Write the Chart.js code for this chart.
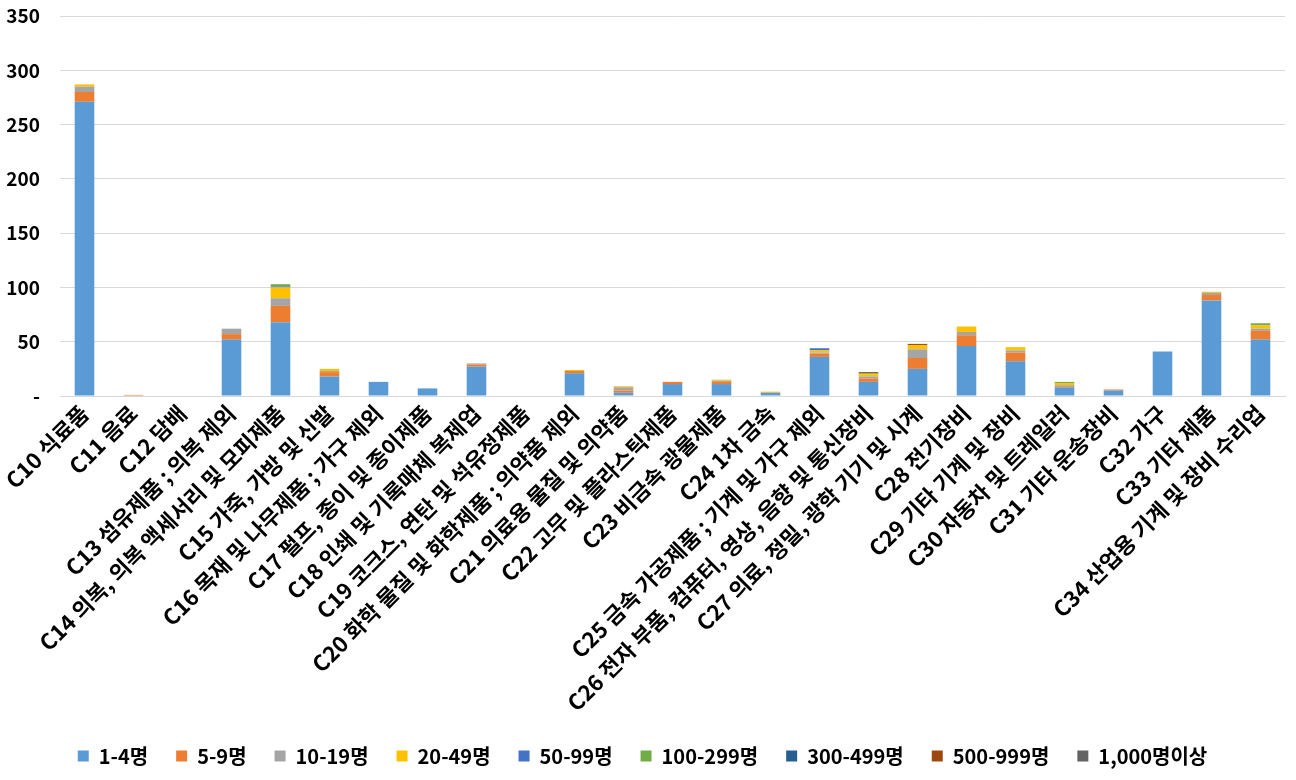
<!DOCTYPE html>
<html>
<head>
<meta charset="utf-8">
<script src="https://cdn.jsdelivr.net/npm/chart.js@4/dist/chart.umd.min.js"></script>
<style>
html,body{margin:0;padding:0;background:#fff;}
#wrap{width:1296px;height:780px;}
</style>
</head>
<body>
<div id="wrap"><canvas id="c" width="1296" height="780"></canvas></div>
<script>
const categories = [
  "C10 식료품","C11 음료","C12 담배","C13 섬유제품 ; 의복 제외",
  "C14 의복, 의복 액세서리 및 모피제품","C15 가죽, 가방 및 신발",
  "C16 목재 및 나무제품 ; 가구 제외","C17 펄프, 종이 및 종이제품",
  "C18 인쇄 및 기록매체 복제업","C19 코크스, 연탄 및 석유정제품",
  "C20 화학 물질 및 화학제품 ; 의약품 제외","C21 의료용 물질 및 의약품",
  "C22 고무 및 플라스틱제품","C23 비금속 광물제품","C24 1차 금속",
  "C25 금속 가공제품 ; 기계 및 가구 제외","C26 전자 부품, 컴퓨터, 영상, 음향 및 통신장비",
  "C27 의료, 정밀, 광학 기기 및 시계","C28 전기장비","C29 기타 기계 및 장비",
  "C30 자동차 및 트레일러","C31 기타 운송장비","C32 가구","C33 기타 제품",
  "C34 산업용 기계 및 장비 수리업"
];
const seriesNames = ["1-4명","5-9명","10-19명","20-49명","50-99명","100-299명","300-499명","500-999명","1,000명이상"];
const s1to4     = [271,0,0,52,68,18,13,7,27,0,21,3,11,11,3,36,13,25,46,32,8,5,41,88,52];
const s5to9     = [9,1,0,5,15,4,0,0,2,0,2,2,2,2,0,3,3,10,10,8,1,1,0,5,8];
const s10to19   = [5,0,0,5,7,1,0,0,1,0,0,3,0,1,0,1,2,8,3,2,1,0,0,2,2];
const s20to49   = [2,0,0,0,10,2,0,0,0,0,1,1,0,1,1,2,2,4,5,3,2,0,0,1,3];
const s50to99   = [0,0,0,0,1,0,0,0,0,0,0,0,0,0,0,2,0,0,0,0,0,0,0,0,0];
const s100to299 = [0,0,0,0,2,0,0,0,0,0,0,0,0,0,0,0,1,0,0,0,1,0,0,0,2];
const s300to499 = [0,0,0,0,0,0,0,0,0,0,0,0,0,0,0,0,0,0,0,0,0,0,0,0,0];
const s500to999 = [0,0,0,0,0,0,0,0,0,0,0,0,0,0,0,0,1,1,0,0,0,0,0,0,0];
const s1000     = [0,0,0,0,0,0,0,0,0,0,0,0,0,0,0,0,0,0,0,0,0,0,0,0,0];
const yTicks = ["-","50","100","150","200","250","300","350"];

const colors = ["#5B9BD5","#ED7D31","#A5A5A5","#FFC000","#4472C4","#70AD47","#255E91","#9E480E","#636363"];
const allSeries = [s1to4,s5to9,s10to19,s20to49,s50to99,s100to299,s300to499,s500to999,s1000];

const FONT = "'Noto Sans CJK KR','Noto Sans',sans-serif";

new Chart(document.getElementById('c'), {
  type: 'bar',
  data: {
    labels: categories,
    datasets: allSeries.map((d,i)=>({
      label: seriesNames[i],
      data: d,
      backgroundColor: colors[i],
      borderWidth: 0,
      barPercentage: 0.4,
      categoryPercentage: 1.0
    }))
  },
  options: {
    responsive: false,
    animation: false,
    devicePixelRatio: 1,
    layout: { padding: { left: 0, right: 11, top: 0, bottom: 4 } },
    plugins: {
      legend: {
        position: 'bottom',
        labels: {
          font: { family: FONT, size: 20, weight: 'bold' },
          color: '#000',
          boxWidth: 11, boxHeight: 11,
          padding: 28
        }
      },
      tooltip: { enabled: false }
    },
    scales: {
      x: {
        stacked: true,
        grid: { display: false, drawTicks: false },
        border: { color: '#d9d9d9', width: 1 },
        ticks: {
          autoSkip: false,
          maxRotation: 45, minRotation: 45,
          color: '#000',
          padding: 4,
          font: { family: FONT, size: 22, weight: 'bold' }
        },
        afterFit: (s) => { s.height = 322; s.paddingLeft = 0; s.paddingRight = 0; }
      },
      y: {
        stacked: true,
        min: 0, max: 350,
        grid: { color: '#d9d9d9', drawTicks: false },
        border: { display: false },
        ticks: {
          stepSize: 50,
          padding: 20,
          color: '#000',
          font: { family: FONT, size: 19, weight: 'bold' },
          callback: (v) => yTicks[Math.round(v/50)]
        },
        afterFit: (s) => { s.width = 60; s.paddingTop = 16; s.paddingBottom = 0; }
      }
    }
  }
});
</script>
</body>
</html>
